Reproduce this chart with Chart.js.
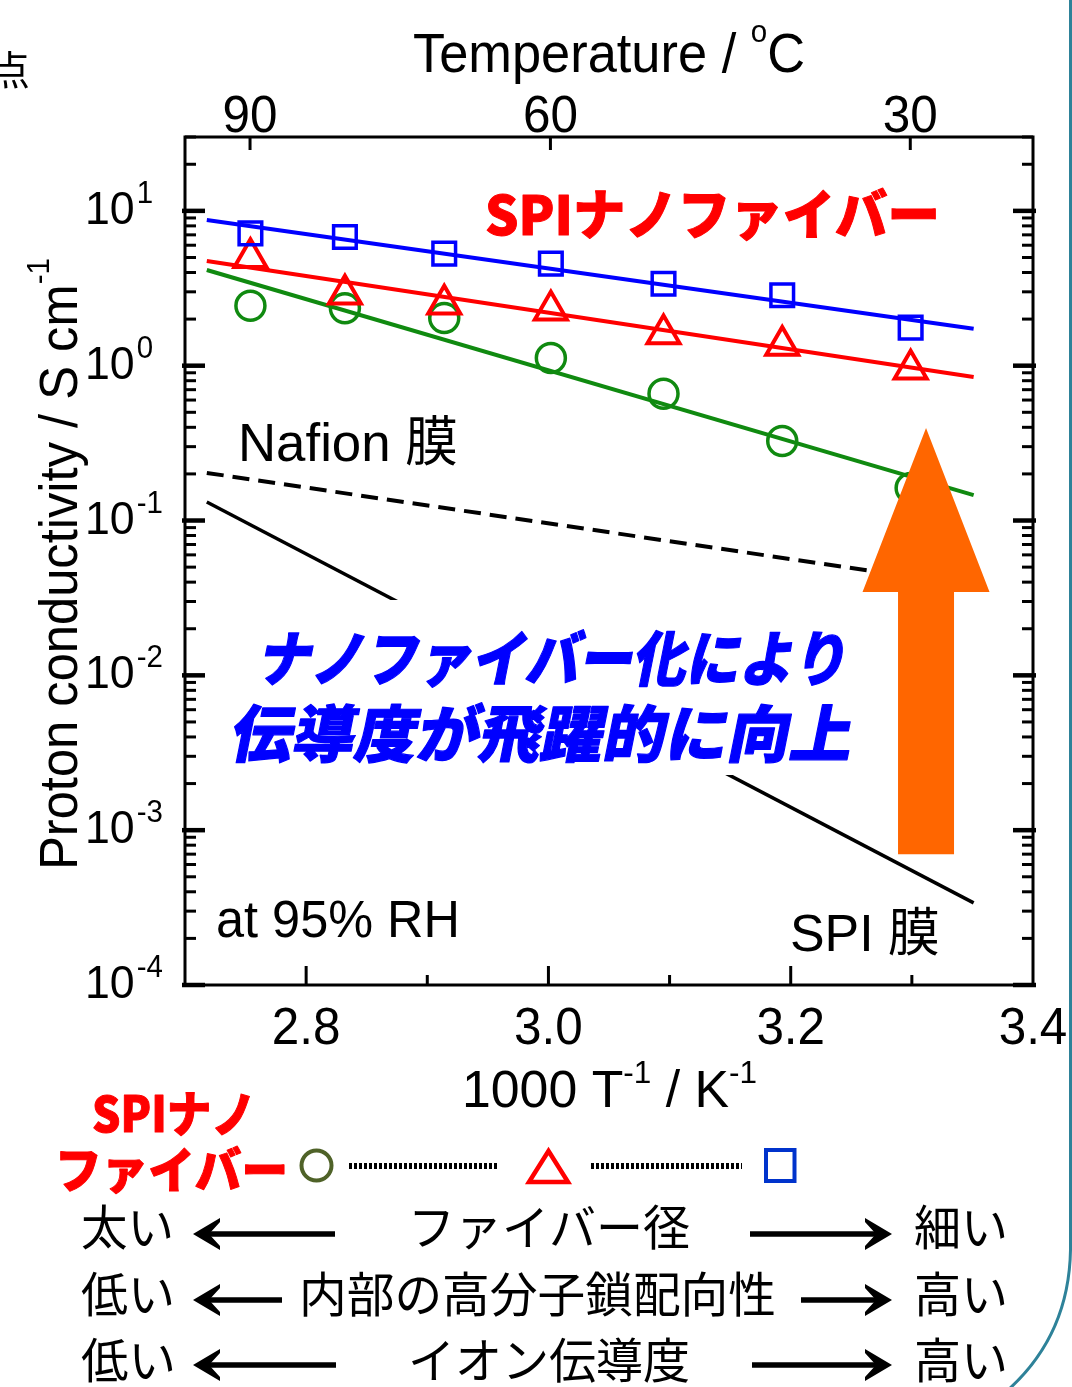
<!DOCTYPE html>
<html>
<head>
<meta charset="utf-8">
<script src="https://cdn.jsdelivr.net/npm/chart.js@4.4.0/dist/chart.umd.min.js"></script>
<style>
html,body{margin:0;padding:0;background:#fff;overflow:hidden}
#wrap{position:relative;width:1072px;height:1387px}
</style>
</head>
<body>
<div id="wrap"><canvas id="c"></canvas></div>
<script>
// ---------------- data ----------------
const tempTicksC = [90, 60, 30];                       // top axis labels (°C)
const invTemp = [2.754, 2.832, 2.914, 3.002, 3.095, 3.193, 3.299]; // 1000/T at 90..30 °C
const sigmaCircle   = [2.44, 2.35, 2.03, 1.12, 0.658, 0.326, 0.162];
const sigmaTriangle = [4.98, 2.89, 2.49, 2.28, 1.60, 1.35, 0.95];
const sigmaSquare   = [7.16, 6.78, 5.29, 4.56, 3.38, 2.85, 1.76];
const fitX = [2.718, 3.351];
const fitSquare   = [8.73, 1.73];
const fitTriangle = [4.75, 0.845];
const fitCircle   = [4.15, 0.146];
const nafionX = [2.718, 3.30];
const nafionY = [0.203, 0.0432];
const spiX = [2.718, 3.351];
const spiY = [0.1318, 0.000339];
const xTicks = [2.8, 3.0, 3.2, 3.4];
const xTickLabels = ['2.8', '3.0', '3.2', '3.4'];
const xMinor = [2.9, 3.1, 3.3];
const yDecades = [-4, -3, -2, -1, 0, 1];

const BLUE = '#0000ff', RED = '#ff0000', GREEN = '#108a10', ORANGE = '#ff6600';
const FONT_LAT = '"Liberation Sans", Arial, "Noto Sans CJK JP", sans-serif';
const FONT_JP = '"Noto Sans CJK JP", "Noto Sans CJK SC", sans-serif';

function pts(xs, ys) { return xs.map((x, i) => ({ x: x, y: ys[i] })); }

function drawText(ctx, s, x, y, o) {
  ctx.save();
  ctx.font = (o.weight || 400) + ' ' + o.size + 'px ' + (o.family || FONT_LAT);
  ctx.fillStyle = o.color || '#000';
  ctx.textAlign = 'left'; ctx.textBaseline = 'alphabetic';
  const w = ctx.measureText(s).width;
  const sx = o.sx || (o.width ? o.width / w : 1);
  let x0 = x;
  if (o.align === 'center') x0 = x - w * sx / 2;
  else if (o.align === 'right') x0 = x - w * sx;
  ctx.translate(x0, y);
  if (o.skew) ctx.transform(1, 0, -o.skew, 1, 0, 0);
  ctx.scale(sx, 1);
  ctx.fillText(s, 0, 0);
  if (o.stroke) { ctx.strokeStyle = o.color || '#000'; ctx.lineWidth = o.stroke; ctx.lineJoin = 'round'; ctx.strokeText(s, 0, 0); }
  ctx.restore();
  return w * sx;
}

// parts: [{t, sup}]
function drawRich(ctx, parts, x, y, o) {
  ctx.save();
  ctx.fillStyle = o.color || '#000';
  ctx.textAlign = 'left'; ctx.textBaseline = 'alphabetic';
  const fam = o.family || FONT_LAT;
  let total = 0; const ws = [];
  parts.forEach(p => {
    ctx.font = (o.weight || 400) + ' ' + (p.sup ? o.supSize : o.size) + 'px ' + fam;
    const w = ctx.measureText(p.t).width; ws.push(w); total += w;
  });
  const sx = o.width ? o.width / total : 1;
  let x0 = x;
  if (o.align === 'center') x0 = x - total * sx / 2;
  else if (o.align === 'right') x0 = x - total * sx;
  ctx.translate(x0, y);
  ctx.scale(sx, 1);
  let cx = 0;
  parts.forEach((p, i) => {
    ctx.font = (o.weight || 400) + ' ' + (p.sup ? o.supSize : o.size) + 'px ' + fam;
    ctx.fillText(p.t, cx, p.sup ? -o.supRise : 0);
    cx += ws[i];
  });
  ctx.restore();
}

function line(ctx, x1, y1, x2, y2, w) {
  ctx.lineWidth = w; ctx.beginPath(); ctx.moveTo(x1, y1); ctx.lineTo(x2, y2); ctx.stroke();
}

function hArrow(ctx, x1, x2, y, headLeft) {
  ctx.save(); ctx.fillStyle = '#000'; ctx.strokeStyle = '#000';
  const tip = headLeft ? x1 : x2, tail = headLeft ? x2 : x1, s = headLeft ? 1 : -1;
  ctx.lineWidth = 5.5; ctx.lineCap = 'butt';
  ctx.beginPath(); ctx.moveTo(tail, y); ctx.lineTo(tip + s * 14, y); ctx.stroke();
  ctx.beginPath();
  ctx.moveTo(tip, y);
  ctx.lineTo(tip + s * 27, y - 16);
  ctx.lineTo(tip + s * 27, y - 12);
  ctx.lineTo(tip + s * 16, y);
  ctx.lineTo(tip + s * 27, y + 12);
  ctx.lineTo(tip + s * 27, y + 16);
  ctx.closePath(); ctx.fill();
  ctx.restore();
}

const decor = {
  id: 'decor',
  afterDraw(chart) {
    const ctx = chart.ctx, xs = chart.scales.x, ys = chart.scales.y, a = chart.chartArea;

    // white box behind the message (hides part of the SPI membrane line)
    ctx.save(); ctx.fillStyle = '#fff'; ctx.fillRect(228, 600, 634, 175); ctx.restore();

    // blue message
    drawText(ctx, 'ナノファイバー化により', 256, 681, { size: 60, weight: 900, family: FONT_JP, color: BLUE, width: 590, skew: 0.2, stroke: 1.2 });
    drawText(ctx, '伝導度が飛躍的に向上', 228, 757, { size: 62, weight: 900, family: FONT_JP, color: BLUE, width: 622, skew: 0.2, stroke: 1.2 });

    // orange arrow (anchored in data space)
    const ax = xs.getPixelForValue(3.3117);
    const tipY = ys.getPixelForValue(0.396), baseY = ys.getPixelForValue(0.0345), botY = ys.getPixelForValue(0.0007);
    ctx.save(); ctx.fillStyle = ORANGE;
    ctx.beginPath();
    ctx.moveTo(ax, tipY);
    ctx.lineTo(ax + 63.5, baseY);
    ctx.lineTo(ax + 28, baseY);
    ctx.lineTo(ax + 28, botY);
    ctx.lineTo(ax - 28, botY);
    ctx.lineTo(ax - 28, baseY);
    ctx.lineTo(ax - 63.5, baseY);
    ctx.closePath(); ctx.fill(); ctx.restore();

    // annotations
    drawText(ctx, 'SPIナノファイバー', 485, 235, { size: 54, weight: 900, family: FONT_JP, color: RED, width: 455, stroke: 1 });
    drawText(ctx, 'Nafion 膜', 238, 461, { size: 54, width: 220 });
    drawText(ctx, 'at 95% RH', 216, 937, { size: 51, width: 244 });
    drawText(ctx, 'SPI 膜', 790, 951, { size: 52, width: 150 });

    // frame
    ctx.save(); ctx.strokeStyle = '#000'; ctx.lineCap = 'butt';
    ctx.lineWidth = 3; ctx.strokeRect(a.left, a.top, a.right - a.left, a.bottom - a.top);
    // y ticks (log decades with minors)
    yDecades.forEach(e => {
      for (let k = 1; k <= 9; k++) {
        const v = k * Math.pow(10, e);
        if (v > ys.max + 1e-9) break;
        const py = ys.getPixelForValue(v);
        if (k === 1) {
          line(ctx, a.left - 3, py, a.left + 20, py, 4.5);
          line(ctx, a.right + 3, py, a.right - 20, py, 4.5);
        } else {
          line(ctx, a.left, py, a.left + 11, py, 3);
          line(ctx, a.right, py, a.right - 11, py, 3);
        }
      }
    });
    // bottom x ticks
    xTicks.forEach(v => { const px = xs.getPixelForValue(v); if (px < a.right - 2) line(ctx, px, a.bottom, px, a.bottom - 19, 3); });
    xMinor.forEach(v => { const px = xs.getPixelForValue(v); line(ctx, px, a.bottom, px, a.bottom - 10, 3); });
    // top temperature ticks
    tempTicksC.forEach(t => { const px = xs.getPixelForValue(1000 / (t + 273.15)); line(ctx, px, a.top, px, a.top + 13, 3); });
    ctx.restore();

    // tick labels
    xTicks.forEach((v, i) => drawText(ctx, xTickLabels[i], xs.getPixelForValue(v), 1044, { size: 52, align: 'center', sx: 0.95 }));
    tempTicksC.forEach(t => drawText(ctx, String(t), xs.getPixelForValue(1000 / (t + 273.15)), 132, { size: 52, align: 'center', sx: 0.95 }));
    yDecades.forEach(e => {
      const py = ys.getPixelForValue(Math.pow(10, e));
      const w = drawText(ctx, '10', 85, py + 13, { size: 47, sx: 0.95 });
      drawText(ctx, String(e), 85 + w + 2, py - 8, { size: 31, sx: 0.95 });
    });

    // axis titles
    drawRich(ctx, [{ t: 'Temperature / ' }, { t: 'o', sup: true }, { t: 'C' }], 413, 72,
      { size: 55, supSize: 31, supRise: 30, width: 392 });
    drawRich(ctx, [{ t: '1000 T' }, { t: '-1', sup: true }, { t: ' / K' }, { t: '-1', sup: true }], 462, 1107,
      { size: 51, supSize: 31, supRise: 24, width: 295 });
    ctx.save(); ctx.translate(77, 870); ctx.rotate(-Math.PI / 2);
    drawRich(ctx, [{ t: 'Proton conductivity / S cm' }, { t: '-1', sup: true }], 0, 0,
      { size: 53, supSize: 31, supRise: 28, width: 612 });
    ctx.restore();

    // ---------- bottom explanation ----------
    drawText(ctx, 'SPIナノ', 92, 1132, { size: 49, weight: 900, family: FONT_JP, color: RED, width: 164, stroke: 1 });
    drawText(ctx, 'ファイバー', 55, 1188, { size: 49, weight: 900, family: FONT_JP, color: RED, width: 233, stroke: 1 });
    ctx.save();
    ctx.lineWidth = 4; ctx.strokeStyle = '#4f6228';
    ctx.beginPath(); ctx.arc(316.5, 1165.5, 15, 0, Math.PI * 2); ctx.stroke();
    ctx.strokeStyle = RED; ctx.lineWidth = 4.5; ctx.lineJoin = 'miter';
    ctx.beginPath(); ctx.moveTo(548.5, 1151); ctx.lineTo(568, 1182); ctx.lineTo(529, 1182); ctx.closePath(); ctx.stroke();
    ctx.strokeStyle = '#0033cc'; ctx.lineWidth = 4;
    ctx.strokeRect(766, 1150, 28.5, 31);
    ctx.strokeStyle = '#000'; ctx.setLineDash([3, 2]);
    line(ctx, 349, 1166, 499, 1166, 6);
    line(ctx, 591, 1166, 742, 1166, 6);
    ctx.restore();

    const rowFont = { size: 48, family: FONT_JP };
    drawText(ctx, '太い', 81, 1245, Object.assign({ width: 93 }, rowFont));
    hArrow(ctx, 193, 335, 1234, true);
    drawText(ctx, 'ファイバー径', 408, 1245, Object.assign({ width: 282 }, rowFont));
    hArrow(ctx, 750, 892, 1234, false);
    drawText(ctx, '細い', 914, 1245, Object.assign({ width: 94 }, rowFont));

    drawText(ctx, '低い', 81, 1312, Object.assign({ width: 94 }, rowFont));
    hArrow(ctx, 193, 282, 1300, true);
    drawText(ctx, '内部の高分子鎖配向性', 299, 1312, Object.assign({ width: 477 }, rowFont));
    hArrow(ctx, 801, 892, 1300, false);
    drawText(ctx, '高い', 914, 1312, Object.assign({ width: 94 }, rowFont));

    drawText(ctx, '低い', 81, 1378, Object.assign({ width: 95 }, rowFont));
    hArrow(ctx, 193, 336, 1365, true);
    drawText(ctx, 'イオン伝導度', 408, 1378, Object.assign({ width: 282 }, rowFont));
    hArrow(ctx, 752, 892, 1365, false);
    drawText(ctx, '高い', 914, 1378, Object.assign({ width: 94 }, rowFont));

    // page fragments: cut-off character and slide border
    drawText(ctx, '点', -10, 85, { size: 40, family: FONT_JP });
    ctx.save(); ctx.strokeStyle = '#2e8299'; ctx.lineWidth = 3;
    ctx.beginPath(); ctx.moveTo(1070.5, 0); ctx.lineTo(1070.5, 1250);
    ctx.quadraticCurveTo(1069, 1335, 1008, 1390); ctx.stroke(); ctx.restore();
  }
};

new Chart(document.getElementById('c'), {
  type: 'scatter',
  data: {
    datasets: [
      { label: 'SPI nanofiber (thin)', data: pts(invTemp, sigmaSquare), pointStyle: 'rect', pointRadius: 16,
        borderColor: BLUE, backgroundColor: 'rgba(0,0,0,0)', borderWidth: 3.5, pointBorderWidth: 3.5, showLine: false },
      { label: 'SPI nanofiber (middle)', data: pts(invTemp, sigmaTriangle), pointStyle: 'triangle', pointRadius: 18.5,
        borderColor: RED, backgroundColor: 'rgba(0,0,0,0)', borderWidth: 4, pointBorderWidth: 4, showLine: false },
      { label: 'SPI nanofiber (thick)', data: pts(invTemp, sigmaCircle), pointStyle: 'circle', pointRadius: 14.5,
        borderColor: GREEN, backgroundColor: 'rgba(0,0,0,0)', borderWidth: 3.5, pointBorderWidth: 3.5, showLine: false },
      { label: 'fit thin', data: pts(fitX, fitSquare), showLine: true, borderColor: BLUE, borderWidth: 4, pointRadius: 0 },
      { label: 'fit middle', data: pts(fitX, fitTriangle), showLine: true, borderColor: RED, borderWidth: 4, pointRadius: 0 },
      { label: 'fit thick', data: pts(fitX, fitCircle), showLine: true, borderColor: GREEN, borderWidth: 4, pointRadius: 0 },
      { label: 'Nafion', data: pts(nafionX, nafionY), showLine: true, borderColor: '#000', borderWidth: 4, borderDash: [17, 9], pointRadius: 0 },
      { label: 'SPI membrane', data: pts(spiX, spiY), showLine: true, borderColor: '#000', borderWidth: 3.5, pointRadius: 0 }
    ]
  },
  options: {
    responsive: true, maintainAspectRatio: false, animation: false, devicePixelRatio: 1,
    layout: { padding: { left: 185, right: 39, top: 137, bottom: 402 } },
    scales: {
      x: { type: 'linear', min: 2.7, max: 3.4, display: false },
      y: { type: 'logarithmic', min: 1e-4, max: 30, display: false }
    },
    plugins: { legend: { display: false }, tooltip: { enabled: false } },
    events: []
  },
  plugins: [decor]
});
</script>
</body>
</html>
